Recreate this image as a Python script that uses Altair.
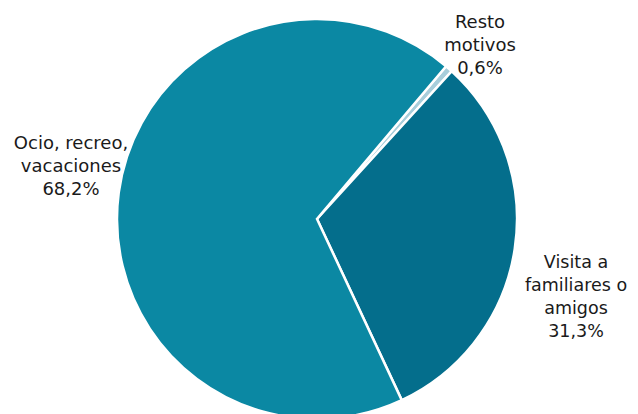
import altair as alt
import pandas as pd
import math

categories = ["Resto motivos", "Visita a familiares o amigos", "Ocio, recreo, vacaciones"]
values = [0.6, 31.3, 68.2]
label_lines = [["Resto", "motivos", "0,6%"],
               ["Visita a", "familiares o", "amigos", "31,3%"],
               ["Ocio, recreo,", "vacaciones", "68,2%"]]
colors = ["#A8CEDB", "#046E8C", "#0B88A3"]

df = pd.DataFrame({"cat": categories, "val": values, "ord": [0, 1, 2]})

start = math.radians(40.2)
W, H = 622, 406
cx, cy = 309, 211

pie = alt.Chart(df).mark_arc(radius=200, stroke="white", strokeWidth=2.5).encode(
    theta=alt.Theta("val:Q", stack=True, scale=alt.Scale(range=[start, start + 2 * math.pi])),
    color=alt.Color("cat:N", scale=alt.Scale(domain=categories, range=colors), legend=None),
    order=alt.Order("ord:Q"),
    x=alt.value(cx), y=alt.value(cy),
)

label_pos = [(472, 15), (568, 255), (63, 136)]
label_sizes = [18, 17.5, 18]
layers = [pie]
for lines, (lx, ly), fs in zip(label_lines, label_pos, label_sizes):
    t = alt.Chart(pd.DataFrame({"t": [lines]})).mark_text(
        font="DejaVu Sans", fontSize=fs, color="#1a1a1a", align="center",
        baseline="middle", lineHeight=23
    ).encode(text="t", x=alt.value(lx), y=alt.value(ly))
    layers.append(t)

chart = alt.layer(*layers).properties(
    width=W, height=H, autosize=alt.AutoSizeParams(type="none"), padding=0
).configure_view(stroke=None)

chart.save("out.html", embed_options={"renderer": "svg", "actions": False})
